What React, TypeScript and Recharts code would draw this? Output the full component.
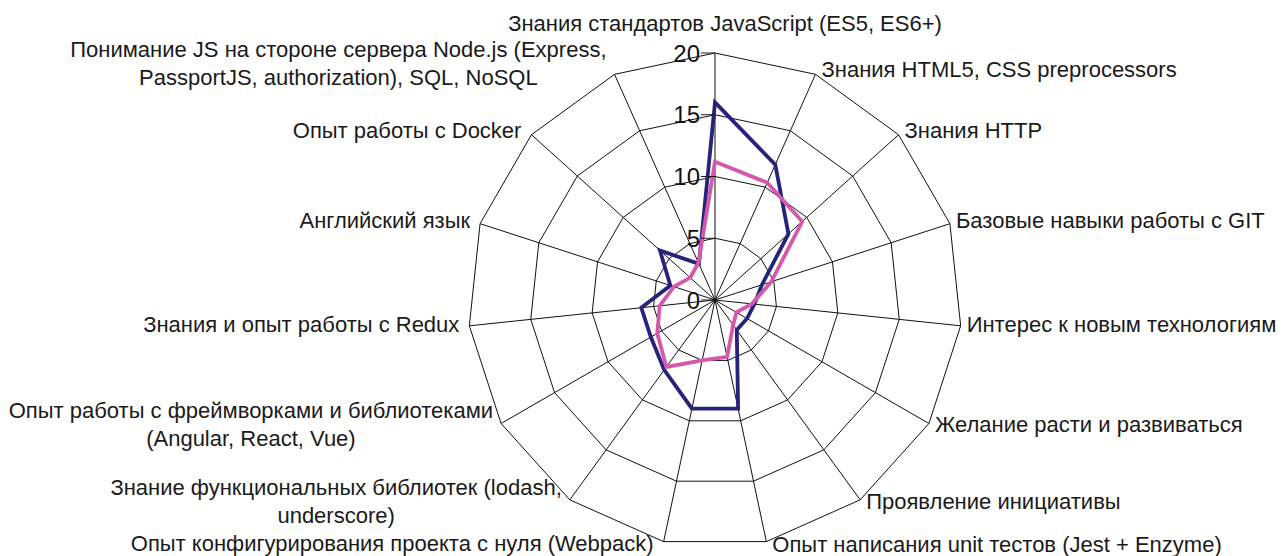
import React from 'react';
import { RadarChart, Radar, PolarGrid, PolarAngleAxis, PolarRadiusAxis } from 'recharts';

const categories: string[] = [
  'Знания стандартов JavaScript (ES5, ES6+)',
  'Знания HTML5, CSS preprocessors',
  'Знания HTTP',
  'Базовые навыки работы с GIT',
  'Интерес к новым технологиям',
  'Желание расти и развиваться',
  'Проявление инициативы',
  'Опыт написания unit тестов (Jest + Enzyme)',
  'Опыт конфигурирования проекта с нуля (Webpack)',
  'Знание функциональных библиотек (lodash,\nunderscore)',
  'Опыт работы с фреймворками и библиотеками\n(Angular, React, Vue)',
  'Знания и опыт работы с Redux',
  'Английский язык',
  'Опыт работы с Docker',
  'Понимание JS на стороне сервера Node.js (Express,\nPassportJS, authorization), SQL, NoSQL',
];

const seriesNavy: number[] = [16, 12, 8, 4, 3.2, 3, 3, 9, 9, 7, 6, 6, 3.8, 6, 3.2];
const seriesPink: number[] = [11.2, 10.4, 9.5, 4.8, 3, 2, 2.5, 4.7, 5, 6.7, 5.4, 4.5, 3.5, 2.7, 3.3];

const radiusTicks: number[] = [0, 5, 10, 15, 20];

const data = categories.map((c, i) => ({ name: c, navy: seriesNavy[i], pink: seriesPink[i] }));

const CX = 715;
const CY = 300;
const R = 247;
const LABEL_FONT = 22;
const FONT_FAMILY = '"Liberation Sans", Arial, sans-serif';
const LINE_H = 28;

let ctx: CanvasRenderingContext2D | null = null;
function measure(text: string): number {
  if (!ctx) {
    const c = document.createElement('canvas');
    ctx = c.getContext('2d');
  }
  if (!ctx) return text.length * LABEL_FONT * 0.5;
  ctx.font = `${LABEL_FONT}px ${FONT_FAMILY}`;
  return ctx.measureText(text).width;
}

const AngleTick = (props: any) => {
  const { x, y, payload } = props;
  const lines = String(payload.value).split('\n');
  const dx = x - CX;
  const dy = y - CY;
  const d = Math.hypot(dx, dy) || 1;
  const ux = dx / d;
  const uy = dy / d;
  const vx = CX + ux * R;
  const vy = CY + uy * R;
  const common = { fontSize: LABEL_FONT, fontFamily: FONT_FAMILY, fill: '#1a1a1a' };
  if (Math.abs(ux) < 0.05 && uy < 0) {
    return (
      <text x={vx + 10} y={vy - 30} textAnchor="middle" dominantBaseline="central" {...common}>
        {lines.join(' ')}
      </text>
    );
  }
  const centerY = vy + 4 * uy - 2;
  if (ux > 0) {
    return (
      <text x={vx + 6} y={centerY} textAnchor="start" dominantBaseline="central" {...common}>
        {lines.map((l, i) => (
          <tspan key={i} x={vx + 6} y={centerY + (i - (lines.length - 1) / 2) * LINE_H}>{l}</tspan>
        ))}
      </text>
    );
  }
  if (lines.length === 1) {
    return (
      <text x={vx - 10} y={centerY} textAnchor="end" dominantBaseline="central" {...common}>
        {lines[0]}
      </text>
    );
  }
  const w = Math.max(...lines.map(measure));
  const right = vx - 8;
  const mid = right - w / 2;
  const blockY = uy < -0.5 ? centerY - 6 : centerY;
  return (
    <text textAnchor="middle" dominantBaseline="central" {...common}>
      {lines.map((l, i) => (
        <tspan key={i} x={mid} y={blockY + (i - (lines.length - 1) / 2) * LINE_H}>{l}</tspan>
      ))}
    </text>
  );
};

const RadiusTick = (props: any) => {
  const { x, y, payload } = props;
  return (
    <g>
      <line x1={x - 14} y1={y} x2={x} y2={y} stroke="#1a1a1a" strokeWidth={1} />
      <text x={x - 15} y={y} textAnchor="end" dominantBaseline="central" fontSize={24} fontFamily={FONT_FAMILY} fill="#111">
        {payload.value}
      </text>
    </g>
  );
};

export default function App() {
  return (
    <div style={{ position: 'absolute', left: 0, top: 0, width: 1284, height: 556, background: '#fff' }}>
      <RadarChart width={1284} height={556} cx={CX} cy={CY} outerRadius={R} data={data} margin={{ top: 0, right: 0, bottom: 0, left: 0 }}>
        <PolarGrid gridType="polygon" stroke="#111" strokeWidth={1} />
        <PolarAngleAxis dataKey="name" tick={<AngleTick />} tickLine={false} axisLine={false} />
        <PolarRadiusAxis
          angle={90}
          domain={[0, 20]}
          ticks={radiusTicks as any}
          tickCount={5}
          axisLine={false}
          tick={<RadiusTick />}
        />
        <Radar dataKey="navy" stroke="#25237a" strokeWidth={3.8} fill="none" fillOpacity={0} dot={false} isAnimationActive={false} />
        <Radar dataKey="pink" stroke="#d658ac" strokeWidth={3.8} fill="none" fillOpacity={0} dot={false} isAnimationActive={false} />
      </RadarChart>
    </div>
  );
}
